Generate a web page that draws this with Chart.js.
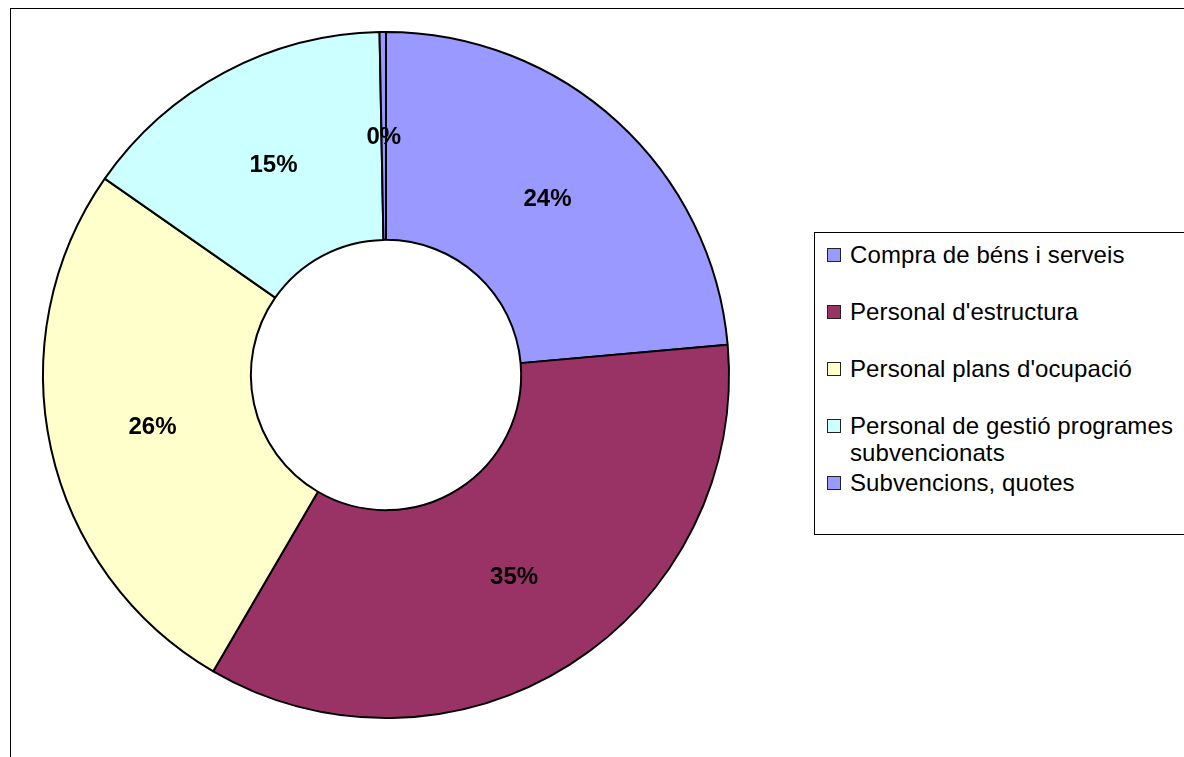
<!DOCTYPE html>
<html>
<head>
<meta charset="utf-8">
<script src="https://cdn.jsdelivr.net/npm/chart.js@4/dist/chart.umd.min.js"></script>
<style>
  html, body { margin: 0; padding: 0; background: #fff; width: 1184px; height: 757px; overflow: hidden; }
  #frame { position: absolute; left: 10px; top: 8px; width: 1300px; height: 900px; border: 1px solid #000; background: #fff; }
  #wrap { position: absolute; left: 0; top: 0; width: 1184px; height: 757px; }
  #legend { position: absolute; left: 814px; top: 232px; width: 420px; height: 301px; border: 1px solid #000; background: #fff;
            font-family: "Liberation Sans", Arial, sans-serif; font-size: 24px; line-height: 27px; color: #000; }
  .row { position: absolute; left: 0; width: 400px; }
  .sw { position: absolute; left: 12px; top: 7px; width: 12px; height: 12px; border: 1px solid #222; }
  .tx { position: absolute; left: 35px; top: 0; width: 332px; letter-spacing: 0.1px; white-space: normal; }
</style>
</head>
<body>
<div id="frame"></div>
<div id="wrap"><canvas id="c" width="1184" height="757"></canvas></div>
<div id="legend"></div>
<script>
const categories = [
  'Compra de béns i serveis',
  "Personal d'estructura",
  "Personal plans d'ocupació",
  'Personal de gestió programes subvencionats',
  'Subvencions, quotes'
];
const values = [23.6, 34.8, 26.3, 15.0, 0.3];
const colors = ['#9999FF', '#993366', '#FFFFCC', '#CCFFFF', '#9999FF'];

const total = values.reduce((a, b) => a + b, 0);

const labelPlugin = {
  id: 'sliceLabels',
  afterDatasetsDraw(chart) {
    const ctx = chart.ctx;
    const meta = chart.getDatasetMeta(0);
    ctx.save();
    ctx.font = 'bold 24px "Liberation Sans", Arial, sans-serif';
    ctx.fillStyle = '#000';
    ctx.textAlign = 'center';
    ctx.textBaseline = 'middle';
    meta.data.forEach((arc, i) => {
      const p = arc.getCenterPoint();
      const pct = Math.round(values[i] / total * 100) + '%';
      ctx.fillText(pct, p.x, p.y + 1);
    });
    ctx.restore();
  }
};

new Chart(document.getElementById('c'), {
  type: 'doughnut',
  data: {
    labels: categories,
    datasets: [{
      data: values,
      backgroundColor: colors,
      borderColor: '#000',
      borderWidth: 2
    }]
  },
  options: {
    responsive: false,
    animation: false,
    events: [],
    radius: 343,
    cutout: '39.4%',
    layout: { padding: { left: 43, right: 455, top: 32, bottom: 39 } },
    plugins: { legend: { display: false }, tooltip: { enabled: false } }
  },
  plugins: [labelPlugin]
});

const legend = document.getElementById('legend');
categories.forEach((name, i) => {
  const row = document.createElement('div');
  row.className = 'row';
  row.style.top = (8 + i * 57) + 'px';
  const sw = document.createElement('div');
  sw.className = 'sw';
  sw.style.background = colors[i];
  const tx = document.createElement('div');
  tx.className = 'tx';
  tx.textContent = name;
  row.appendChild(sw);
  row.appendChild(tx);
  legend.appendChild(row);
});
</script>
</body>
</html>
